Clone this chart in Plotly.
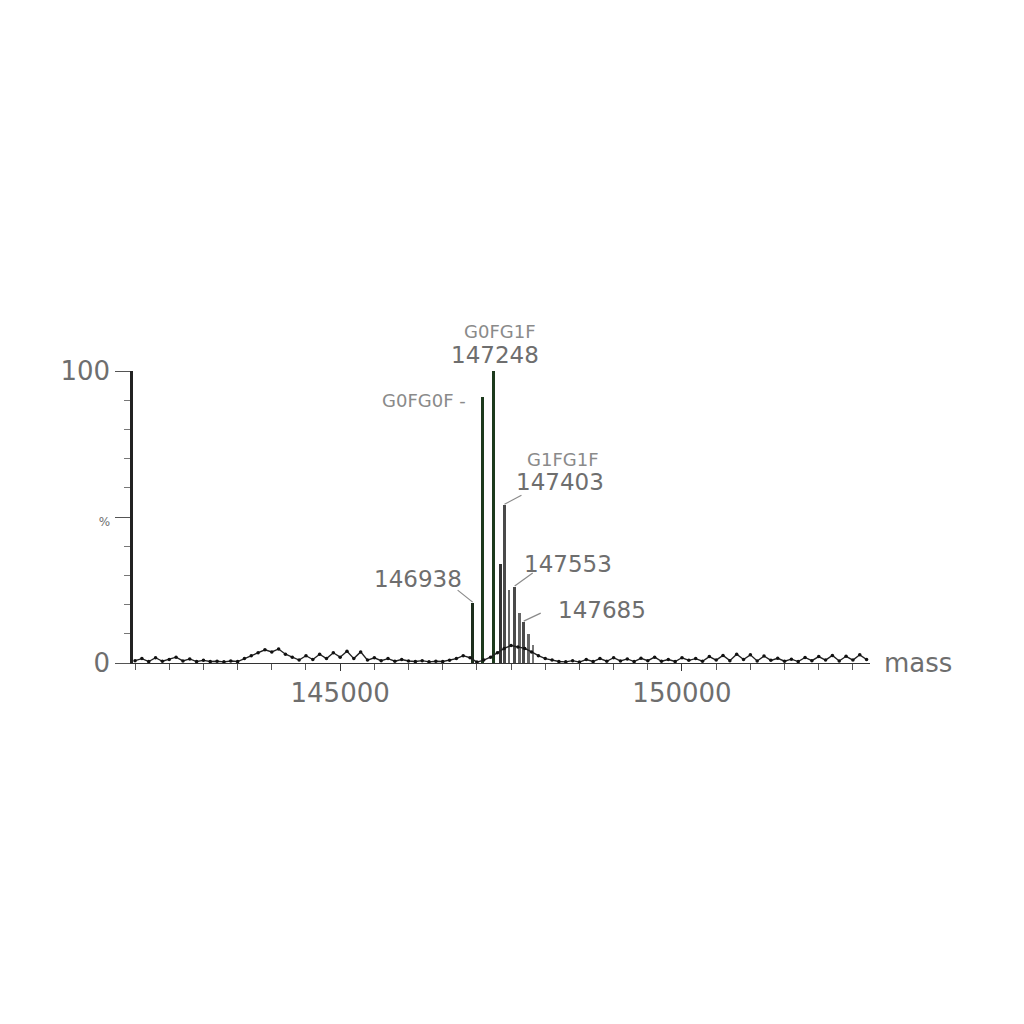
import plotly.graph_objects as go

# ---------------- data ----------------
# baseline noise, sampled every 100 Da from 142000 Da (percent of base peak)
noise_start = 142000
noise_step = 100
noise_int = [
    0.8, 1.5, 0.5, 1.8, 0.6, 1.2, 2.0, 0.7, 1.4, 0.5, 0.9,          # 142000-143000
    0.5, 0.6, 0.4, 0.7, 0.5,                                        # 143100-143500
    1.5, 2.5, 3.5, 4.5, 3.8, 4.8, 3.0, 2.0,                          # 143600-144300
    1.0, 2.5, 1.2, 3.0, 1.5, 3.5, 2.0, 4.0, 1.5, 3.8,                # 144400-145300
    1.0, 1.8, 0.8, 1.5, 0.6, 1.2, 0.7,                               # 145400-146000
    0.5, 0.8, 0.4, 0.6, 0.5, 0.9, 1.5, 2.5, 1.8,                     # 146100-146900
    0.3, 1.0, 2.0, 3.5, 5.0, 6.0, 5.5, 5.0, 3.8, 2.5, 1.5, 1.0, 0.5, # 147000-148200
    0.4, 0.8, 0.3, 1.2, 0.5, 1.5, 0.6, 1.8, 0.7, 1.4,                # 148300-149200
    0.5, 1.6, 0.8, 2.0, 0.6, 1.2, 0.5, 1.8, 0.9, 1.5,                # 149300-150200
    0.6, 2.2, 1.0, 2.6, 0.8, 3.0, 1.2, 2.8, 0.7, 2.4,                # 150300-151200
    0.9, 1.6, 0.6, 1.3, 0.5, 1.9, 0.8, 2.2, 1.0, 2.6,                # 151300-152200
    0.7, 2.3, 1.0, 2.8, 1.2,                                         # 152300-152700
]
noise_mass = [noise_start + noise_step * i for i in range(len(noise_int))]

# deconvoluted peaks (mass in Da, relative intensity in %)
peak_mass = [146938, 147086, 147248, 147340, 147403, 147470, 147553, 147620, 147685, 147750, 147820]
peak_int = [20.5, 91, 100, 34, 54, 25, 26, 17, 14, 10, 6]
peak_color = ["#1d2e1d", "#1d3a1d", "#1d3a1d", "#333333", "#4a4a4a", "#666666",
              "#4a4a4a", "#666666", "#4a4a4a", "#666666", "#777777"]

# labels: (peak mass, glycoform name, mass text)
label_peak = [146938, 147086, 147248, 147403, 147553, 147685]
label_name = ["", "G0FG0F -", "G0FG1F", "G1FG1F", "", ""]
label_mass = ["146938", "", "147248", "147403", "147553", "147685"]

x_tick_vals = [145000, 150000]
x_tick_text = ["145000", "150000"]
y_tick_vals = [0, 50, 100]
y_tick_text = ["0", "<span style='font-size:12px'>%</span>", "100"]

# ---------------- figure ----------------
fig = go.Figure()

fig.add_trace(go.Scatter(
    x=noise_mass, y=noise_int, mode="lines+markers",
    line=dict(color="#222222", width=1.4),
    marker=dict(size=3.5, color="#111111"),
    hoverinfo="skip", showlegend=False,
))

fig.add_trace(go.Bar(
    x=peak_mass, y=peak_int, width=42,
    marker=dict(color=peak_color, line=dict(width=0)),
    showlegend=False,
))

pk = dict(zip(peak_mass, peak_int))

name_font = dict(family="DejaVu Sans", size=18, color="#8a8a8a")
num_font = dict(family="DejaVu Sans", size=23, color="#6e6e6e")

# text offsets in pixels relative to peak tops (right, up)
name_shift = {147086: (-15, -3, "right"), 147248: (6, 40, "center"), 147403: (59, 46, "center")}
num_shift = {146938: (-55, 24), 147248: (1, 16), 147403: (56, 23), 147553: (53, 23), 147685: (78, 12)}
leader = {146938: (-15, 13), 147403: (17, 10), 147553: (18, 14), 147685: (17, 9)}

annotations = []
shapes = []
for m, nm, ms in zip(label_peak, label_name, label_mass):
    h = pk[m]
    if nm:
        dx, dy, anc = name_shift[m]
        annotations.append(dict(x=m, y=h, xref="x", yref="y", text=nm, showarrow=False,
                                xshift=dx, yshift=dy, xanchor=anc, yanchor="middle",
                                font=name_font))
    if ms:
        dx, dy = num_shift[m]
        annotations.append(dict(x=m, y=h, xref="x", yref="y", text=ms, showarrow=False,
                                xshift=dx, yshift=dy, xanchor="center", yanchor="middle",
                                font=num_font))
    if m in leader:
        lx, ly = leader[m]
        shapes.append(dict(type="line", xref="x", yref="y", xsizemode="pixel", ysizemode="pixel",
                           xanchor=m, yanchor=h, x0=0, y0=1, x1=lx, y1=ly,
                           line=dict(color="#8a8a8a", width=1.2)))

annotations.append(dict(x=1, y=0, xref="paper", yref="y", text="mass", showarrow=False,
                        xshift=12, yshift=0, xanchor="left", yanchor="middle",
                        font=dict(family="DejaVu Sans", size=26, color="#6e6e6e")))

fig.update_layout(
    width=1024, height=1024,
    margin=dict(l=125, r=162, t=363, b=369),
    paper_bgcolor="white", plot_bgcolor="white",
    bargap=0,
    annotations=annotations, shapes=shapes,
    font=dict(family="DejaVu Sans", color="#6e6e6e"),
)

fig.update_xaxes(
    range=[141970, 152750],
    tickmode="array", tickvals=x_tick_vals, ticktext=x_tick_text,
    ticks="outside", ticklen=7, tickcolor="#333", tickwidth=1.2,
    minor=dict(dtick=500, tick0=142000, ticks="outside", ticklen=6, tickcolor="#555", tickwidth=1),
    showline=True, linecolor="#333333", linewidth=1.2,
    showgrid=False, zeroline=False,
    tickfont=dict(family="DejaVu Sans", size=26, color="#6e6e6e"),
)
fig.update_yaxes(
    range=[0, 100],
    tickmode="array", tickvals=y_tick_vals, ticktext=y_tick_text,
    ticks="outside", ticklen=15, tickcolor="#555", tickwidth=1.2,
    minor=dict(dtick=10, tick0=0, ticks="outside", ticklen=6, tickcolor="#777", tickwidth=1),
    showline=True, linecolor="#222222", linewidth=2.5,
    showgrid=False, zeroline=False,
    tickfont=dict(family="DejaVu Sans", size=26, color="#6e6e6e"),
)

fig.write_html("out.html")
